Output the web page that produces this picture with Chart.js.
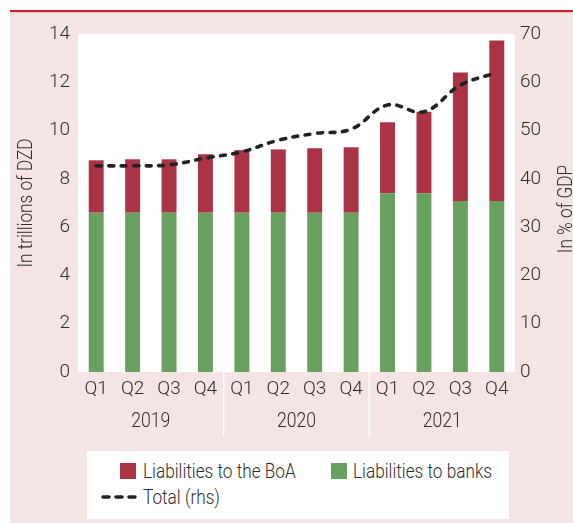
<!DOCTYPE html>
<html>
<head>
<meta charset="utf-8">
<script src="https://cdn.jsdelivr.net/npm/chart.js@4.4.1/dist/chart.umd.min.js"></script>
<style>
  html, body { margin: 0; padding: 0; background: #ffffff; }
  #wrap { position: relative; width: 573px; height: 523px; }
  canvas { position: absolute; left: 0; top: 0; }
  #legend { position: absolute; left: 87px; top: 451px; width: 422px; height: 68px; background: #ffffff;
    font-family: Roboto, sans-serif; font-weight: 300; font-size: 20px; color: #2e2e2e; }
  .item { position: absolute; white-space: nowrap; line-height: 22px; transform: scaleX(0.86); transform-origin: left center; }
  .sw { position: absolute; width: 16px; height: 16px; }
</style>
</head>
<body>
<div id="wrap">
  <canvas id="c" width="573" height="523"></canvas>
  <div id="legend">
    <div class="sw" style="left:33px;top:12px;background:#ab3346"></div>
    <div class="item" style="left:56px;top:9px">Liabilities to the BoA</div>
    <div class="sw" style="left:244px;top:12px;background:#67a05f"></div>
    <div class="item" style="left:266px;top:9px">Liabilities to banks</div>
    <svg style="position:absolute;left:14px;top:40px" width="38" height="12"><line x1="2" y1="6" x2="36" y2="6" stroke="#222" stroke-width="3.5" stroke-linecap="round" stroke-dasharray="6,7"/></svg>
    <div class="item" style="left:56px;top:35px">Total (rhs)</div>
  </div>
</div>
<script>
const quarters = ['Q1','Q2','Q3','Q4','Q1','Q2','Q3','Q4','Q1','Q2','Q3','Q4'];
const years = ['2019','2020','2021'];
const liabilitiesBanks = [6.6, 6.6, 6.6, 6.6, 6.6, 6.6, 6.6, 6.6, 7.4, 7.4, 7.08, 7.08];
const liabilitiesBoA = [2.17, 2.21, 2.21, 2.42, 2.59, 2.62, 2.67, 2.71, 2.94, 3.38, 5.33, 6.65];
const totalRhs = [42.7, 42.7, 42.9, 44.3, 45.6, 48.0, 49.4, 50.3, 55.3, 53.9, 59.4, 62.0];
const leftTicks = [0, 2, 4, 6, 8, 10, 12, 14];
const rightTicks = [0, 10, 20, 30, 40, 50, 60, 70];

const FONT = "Roboto, sans-serif";
const TXT = '#2e2e2e';
const PINK = '#f4e4e3';

const decor = {
  id: 'decor',
  beforeDraw(chart) {
    const ctx = chart.ctx, a = chart.chartArea;
    ctx.save();
    ctx.fillStyle = PINK;
    ctx.fillRect(10, 12, 563, 511);
    ctx.fillStyle = '#c9252e';
    ctx.fillRect(10, 10, 563, 2.2);
    ctx.fillStyle = '#ffffff';
    ctx.fillRect(a.left, a.top, a.right - a.left, a.bottom - a.top);
    ctx.restore();
  },
  afterDraw(chart) {
    const ctx = chart.ctx, a = chart.chartArea, x = chart.scales.x;
    ctx.save();
    ctx.strokeStyle = '#ffffff';
    ctx.lineWidth = 1.5;
    for (let k = 1; k < years.length; k++) {
      const px = (x.getPixelForValue(k * 4 - 1) + x.getPixelForValue(k * 4)) / 2;
      ctx.beginPath(); ctx.moveTo(px, a.bottom); ctx.lineTo(px, 436); ctx.stroke();
    }
    ctx.fillStyle = TXT;
    ctx.font = '300 20px ' + FONT;
    ctx.textAlign = 'center';
    ctx.textBaseline = 'middle';
    years.forEach((y, k) => {
      const px = (x.getPixelForValue(k * 4) + x.getPixelForValue(k * 4 + 3)) / 2;
      ctx.save();
      ctx.translate(px, 422);
      ctx.scale(0.88, 1);
      ctx.fillText(y, 0, 0);
      ctx.restore();
    });
    // axis titles
    ctx.save();
    ctx.translate(27, (a.top + a.bottom) / 2);
    ctx.rotate(-Math.PI / 2);
    ctx.scale(0.86, 1);
    ctx.fillText('In trillions of DZD', 0, 0);
    ctx.restore();
    ctx.save();
    ctx.translate(567, (a.top + a.bottom) / 2 + 6);
    ctx.rotate(-Math.PI / 2);
    ctx.scale(0.86, 1);
    ctx.fillText('In % of GDP', 0, 0);
    ctx.restore();
    ctx.restore();
  }
};

const tickFont = { family: FONT, size: 19, weight: '300' };

new Chart(document.getElementById('c'), {
  data: {
    labels: quarters,
    datasets: [
      { type: 'line', label: 'Total (rhs)', data: totalRhs, yAxisID: 'y1', order: 0,
        borderColor: '#222222', borderWidth: 3.6, borderDash: [5, 7.5], borderCapStyle: 'round',
        tension: 0.4, pointRadius: 0, fill: false },
      { type: 'bar', label: 'Liabilities to banks', data: liabilitiesBanks, yAxisID: 'y', stack: 's', order: 1,
        backgroundColor: '#67a05f', categoryPercentage: 1, barPercentage: 0.41 },
      { type: 'bar', label: 'Liabilities to the BoA', data: liabilitiesBoA, yAxisID: 'y', stack: 's', order: 1,
        backgroundColor: '#ab3346', categoryPercentage: 1, barPercentage: 0.41 }
    ]
  },
  options: {
    responsive: false,
    animation: false,
    devicePixelRatio: 1,
    layout: { padding: { top: 34, left: 0, right: 0, bottom: 0 } },
    plugins: { legend: { display: false }, tooltip: { enabled: false } },
    scales: {
      x: {
        stacked: true,
        grid: { display: false, drawTicks: false },
        border: { display: false },
        ticks: { color: TXT, font: tickFont, padding: 6, maxRotation: 0, autoSkip: false },
        afterFit(s) { s.height = 151; }
      },
      y: {
        position: 'left', stacked: true, min: 0, max: 14,
        grid: { display: false, drawTicks: false },
        border: { display: false },
        afterBuildTicks(s) { s.ticks = leftTicks.map(v => ({ value: v })); },
        ticks: { color: TXT, font: tickFont, padding: 8 },
        afterFit(s) { s.width = 78; }
      },
      y1: {
        position: 'right', min: 0, max: 70,
        grid: { display: false, drawTicks: false },
        border: { display: false },
        afterBuildTicks(s) { s.ticks = rightTicks.map(v => ({ value: v })); },
        ticks: { color: TXT, font: tickFont, padding: 5 },
        afterFit(s) { s.width = 58; }
      }
    }
  },
  plugins: [decor]
});
</script>
</body>
</html>
